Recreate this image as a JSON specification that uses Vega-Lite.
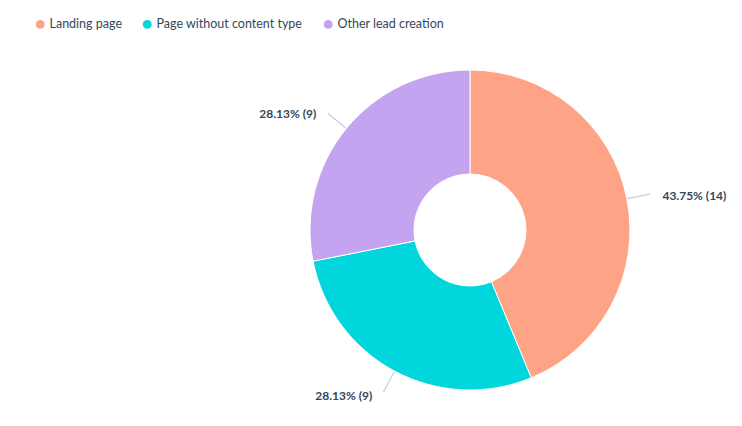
{
  "$schema": "https://vega.github.io/schema/vega-lite/v6.json",
  "width": 544,
  "height": 392,
  "autosize": {"type": "none"},
  "padding": {"left": 198, "top": 34, "right": 0, "bottom": 0},
  "background": "white",
  "config": {"view": {"stroke": null}, "font": "Lato"},
  "data": {
    "values": [
      {"category": "Landing page", "count": 14, "label": "43.75% (14)", "order": 1},
      {"category": "Page without content type", "count": 9, "label": "28.13% (9)", "order": 2},
      {"category": "Other lead creation", "count": 9, "label": "28.13% (9)", "order": 3}
    ]
  },
  "encoding": {
    "theta": {"field": "count", "type": "quantitative", "stack": true},
    "order": {"field": "order", "type": "quantitative"}
  },
  "layer": [
    {
      "mark": {"type": "arc", "outerRadius": 160, "innerRadius": 56, "stroke": "white", "strokeWidth": 1},
      "encoding": {
        "color": {
          "field": "category",
          "type": "nominal",
          "scale": {
            "domain": ["Landing page", "Page without content type", "Other lead creation"],
            "range": ["#ffa387", "#00d6dc", "#c4a4f0"]
          },
          "legend": {
            "orient": "none",
            "legendX": -164,
            "legendY": -16,
            "direction": "horizontal",
            "title": null,
            "symbolType": "circle",
            "symbolSize": 80,
            "symbolStrokeWidth": 0,
            "labelFontSize": 12.5,
            "labelColor": "#33475b",
            "labelFont": "Lato",
            "labelOffset": 3,
            "columnPadding": 19
          }
        }
      }
    },
    {
      "mark": {"type": "arc", "outerRadius": 184, "innerRadius": 161, "padAngle": 3, "fill": "transparent", "stroke": "#cbd6e2", "strokeWidth": 1.5},
      "encoding": {"detail": {"field": "category", "type": "nominal"}}
    },
    {
      "mark": {
        "type": "text",
        "radius": 186,
        "fontSize": 12,
        "fontWeight": "bold",
        "color": "#33475b",
        "baseline": "middle",
        "align": {"expr": "datum.category == 'Landing page' ? 'left' : 'right'"},
        "dx": {"expr": "datum.category == 'Landing page' ? 10 : -10"},
        "dy": 2
      },
      "encoding": {
        "text": {"field": "label", "type": "nominal"},
        "detail": {"field": "category", "type": "nominal"}
      }
    }
  ]
}
